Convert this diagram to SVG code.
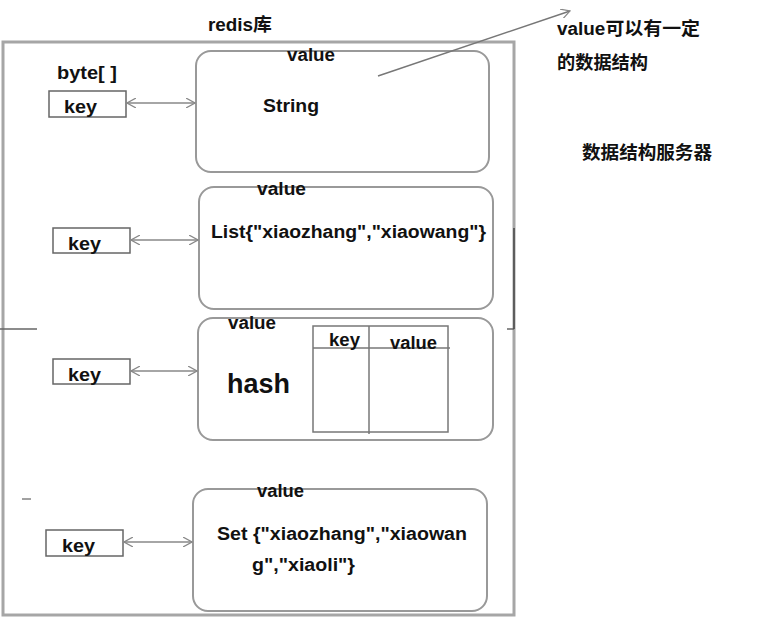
<svg xmlns="http://www.w3.org/2000/svg" width="758" height="620" viewBox="0 0 758 620">
<defs>
<style>
text{font-family:"Liberation Sans","Noto Sans CJK SC",sans-serif;font-weight:bold;fill:#111;}
.t{font-size:18px;}
.keybox{fill:#fff;stroke:#666;stroke-width:1.5;}
.valbox{fill:#fff;stroke:#999;stroke-width:2;}
.conn{stroke:#888;stroke-width:1.5;fill:none;marker-start:url(#oa);marker-end:url(#oa);}
.grid{stroke:#777;stroke-width:1.5;fill:none;}
</style>
<marker id="oa" viewBox="0 0 10 10" refX="9" refY="5" markerWidth="10" markerHeight="10" markerUnits="userSpaceOnUse" orient="auto-start-reverse">
<path d="M0,0 L9,5 L0,10" fill="none" stroke="#888" stroke-width="1.2"/>
</marker>
</defs>
<rect width="758" height="620" fill="#fff"/>
<g id="container">
<rect x="3" y="42" width="511" height="573" fill="none" stroke="#a6a6a6" stroke-width="3"/>
<line x1="0" y1="329" x2="37" y2="329" stroke="#666" stroke-width="1.5"/>
<line x1="507" y1="329" x2="514" y2="329" stroke="#666" stroke-width="1.5"/>
<line x1="514" y1="228" x2="514" y2="329" stroke="#444" stroke-width="1.5"/>
<line x1="22" y1="499" x2="31" y2="499" stroke="#444" stroke-width="1"/>
<text class="t" x="208" y="31" textLength="64" lengthAdjust="spacingAndGlyphs">redis库</text>
<text class="t" x="57" y="79" textLength="60" lengthAdjust="spacingAndGlyphs">byte[ ]</text>
</g>
<g id="key1"><rect class="keybox" x="49" y="91" width="77" height="26"/><text class="t" x="64" y="113" textLength="33" lengthAdjust="spacingAndGlyphs">key</text></g>
<g id="key2"><rect class="keybox" x="53" y="228" width="77" height="25"/><text class="t" x="68" y="250" textLength="33" lengthAdjust="spacingAndGlyphs">key</text></g>
<g id="key3"><rect class="keybox" x="53" y="359" width="77" height="25"/><text class="t" x="68" y="381" textLength="33" lengthAdjust="spacingAndGlyphs">key</text></g>
<g id="key4"><rect class="keybox" x="46" y="530" width="77" height="26"/><text class="t" x="62" y="552" textLength="33" lengthAdjust="spacingAndGlyphs">key</text></g>
<g id="value1">
<rect class="valbox" x="196" y="51" width="293" height="121" rx="15"/>
<text class="t" x="287" y="61" textLength="48" lengthAdjust="spacingAndGlyphs">value</text>
<text class="t" x="263" y="112" textLength="56" lengthAdjust="spacingAndGlyphs">String</text>
</g>
<g id="value2">
<rect class="valbox" x="199" y="187" width="294" height="122" rx="15"/>
<text class="t" x="257" y="195" textLength="49" lengthAdjust="spacingAndGlyphs">value</text>
<text class="t" x="211" y="238" textLength="275" lengthAdjust="spacingAndGlyphs">List{"xiaozhang","xiaowang"}</text>
</g>
<g id="value3">
<rect class="valbox" x="198" y="318" width="295" height="122" rx="15"/>
<text class="t" x="228" y="329" textLength="48" lengthAdjust="spacingAndGlyphs">value</text>
<text x="227" y="393" style="font-size:27px" textLength="63" lengthAdjust="spacingAndGlyphs">hash</text>
<rect class="grid" x="313" y="326" width="135" height="106"/>
<line class="grid" x1="369" y1="326" x2="369" y2="434"/>
<line class="grid" x1="313" y1="348" x2="450" y2="348"/>
<text class="t" x="329" y="346" textLength="31" lengthAdjust="spacingAndGlyphs">key</text>
<text class="t" x="390" y="349" textLength="47" lengthAdjust="spacingAndGlyphs">value</text>
</g>
<g id="value4">
<rect class="valbox" x="193" y="489" width="294" height="122" rx="15"/>
<text class="t" x="257" y="497" textLength="47" lengthAdjust="spacingAndGlyphs">value</text>
<text class="t" x="217" y="540" textLength="250" lengthAdjust="spacingAndGlyphs">Set {"xiaozhang","xiaowan</text>
<text class="t" x="252" y="571" textLength="103" lengthAdjust="spacingAndGlyphs">g","xiaoli"}</text>
</g>
<g id="note">
<text x="557" y="35" style="font-size:18px" textLength="143" lengthAdjust="spacingAndGlyphs">value可以有一定</text>
<text x="557" y="69" style="font-size:18px" textLength="91" lengthAdjust="spacingAndGlyphs">的数据结构</text>
<text x="582" y="159" style="font-size:18px" textLength="130" lengthAdjust="spacingAndGlyphs">数据结构服务器</text>
</g>
<g id="connectors">
<line class="conn" x1="127" y1="103" x2="195" y2="103"/>
<line class="conn" x1="131" y1="240" x2="198" y2="240"/>
<line class="conn" x1="131" y1="371" x2="197" y2="371"/>
<line class="conn" x1="124" y1="542" x2="192" y2="542"/>
<line x1="378" y1="76" x2="570" y2="11" stroke="#777" stroke-width="1.5" marker-end="url(#oa)"/>
</g>
</svg>
